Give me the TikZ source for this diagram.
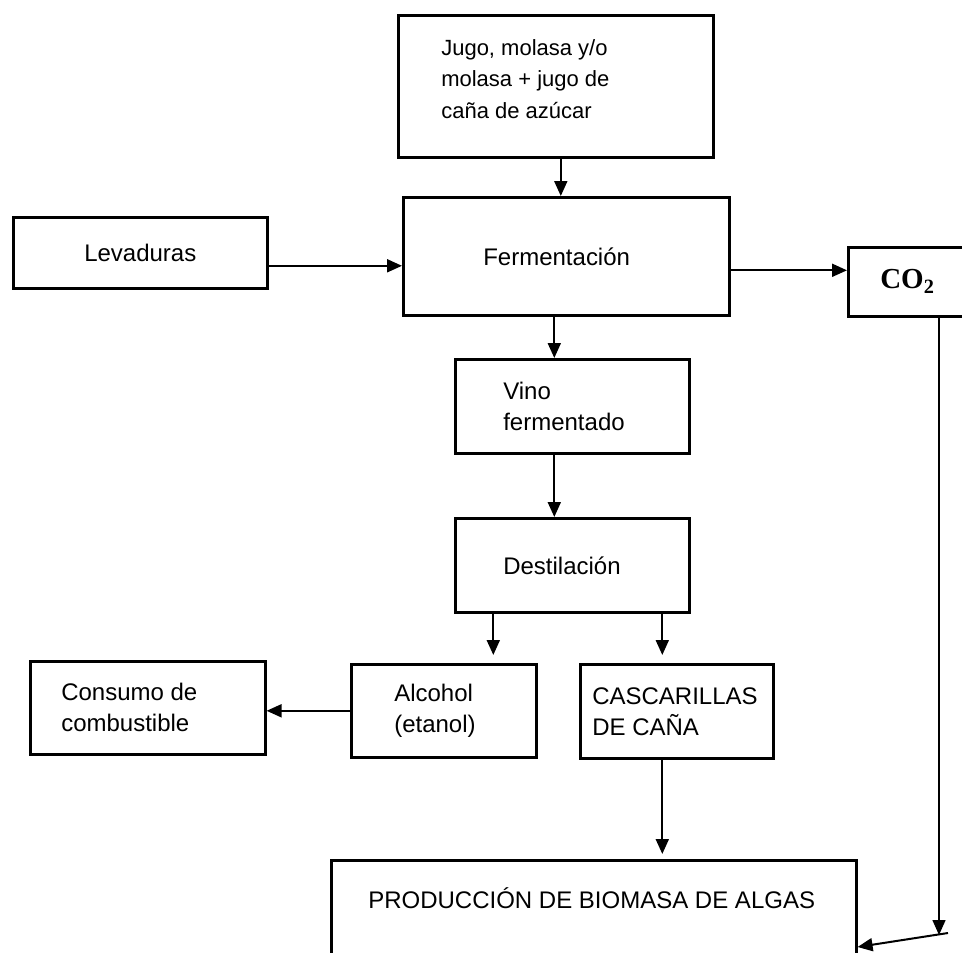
\documentclass[tikz,border=0pt]{standalone}
\usepackage{fontspec}
\setmainfont{Liberation Sans}
\newfontfamily\seriffont{Liberation Serif}
\usepackage{tikz}
\usetikzlibrary{arrows.meta, positioning}

\tikzset{
  caja/.style={draw, line width=2.6pt, rectangle, anchor=north west, align=flush left, inner ysep=0pt},
  flecha/.style={line width=2pt, -{Triangle[length=15pt,width=13pt]}},
}

\begin{document}
\begin{tikzpicture}[x=1pt, y=-1pt, font=\fontsize{24}{31}\selectfont]
  \useasboundingbox (0,0) rectangle (962,953);
  % Cajas del proceso
  \node[caja, minimum width=315pt, minimum height=142pt, inner xsep=43pt, text width=229pt,
        text height=16pt, text depth=78pt, font=\fontsize{22}{31.5}\selectfont] (jugo) at (397,14)
        {Jugo, molasa y/o\\molasa + jugo de\\caña de azúcar};
  \node[caja, minimum width=254pt, minimum height=71pt, inner xsep=8pt, text width=238pt, align=center] (lev) at (12,216) {Levaduras};
  \node[caja, minimum width=326pt, minimum height=118pt, inner xsep=80pt, text width=166pt] (ferm) at (402,196) {Fermentación};
  \node[caja, minimum width=160pt, minimum height=69pt, inner xsep=32pt, text width=96pt,
        font=\seriffont\bfseries\fontsize{29}{30}\selectfont] (co2) at (847,246) {CO\textsubscript{2}};
  \node[caja, minimum width=234pt, minimum height=94pt, inner xsep=48pt, text width=138pt] (vino) at (454,358) {Vino\\fermentado};
  \node[caja, minimum width=234pt, minimum height=94pt, inner xsep=48pt, text width=138pt] (dest) at (454,517) {Destilación};
  \node[caja, minimum width=235pt, minimum height=93pt, inner xsep=31pt, text width=173pt] (cons) at (29,660) {Consumo de\\combustible};
  \node[caja, minimum width=185pt, minimum height=93pt, inner xsep=43pt, text width=99pt] (alc) at (350,663) {Alcohol\\(etanol)};
  \node[caja, minimum width=193pt, minimum height=94pt, inner xsep=12pt, text width=169pt] (casc) at (579,663) {CASCARILLAS\\DE CAÑA};
  \node[caja, minimum width=525pt, inner xsep=37pt, text width=451pt, inner ysep=28pt,
        text height=20pt, text depth=64pt] (prod) at (330,859) {PRODUCCIÓN DE BIOMASA DE ALGAS};
  % Flechas
  \draw[flecha] ([xshift=5pt]jugo.south) -- ([xshift=5pt]jugo.south |- ferm.north);
  \draw[flecha] ([yshift=-13pt]lev.east) -- ([yshift=-13pt]lev.east -| ferm.west);
  \draw[flecha] ([yshift=-14pt]ferm.east) -- ([yshift=-14pt]ferm.east -| co2.west);
  \draw[flecha] ([xshift=-18pt]vino.north |- ferm.south) -- ([xshift=-18pt]vino.north);
  \draw[flecha] ([xshift=-18pt]vino.south) -- ([xshift=-18pt]dest.north);
  \draw[flecha, shorten >=8pt] ([xshift=-79pt]dest.south) -- ([xshift=-79pt]dest.south |- alc.north);
  \draw[flecha, shorten >=8pt] ([xshift=90pt]dest.south) -- ([xshift=90pt]dest.south |- casc.north);
  \draw[flecha] (alc.west) -- (alc.west -| cons.east);
  \draw[flecha, shorten >=5pt] ([xshift=-14.5pt]casc.south) -- ([xshift=-14.5pt]casc.south |- prod.north);
  % Retorno del CO2
  \coordinate (codown) at (939,935);
  \coordinate (coturn) at (948,933);
  \coordinate (prodin) at (855,947);
  \draw[flecha, line width=1.5pt] (co2.south -| codown) -- (codown);
  \draw[flecha] (coturn) -- (prod.east |- prodin);
\end{tikzpicture}
\end{document}
